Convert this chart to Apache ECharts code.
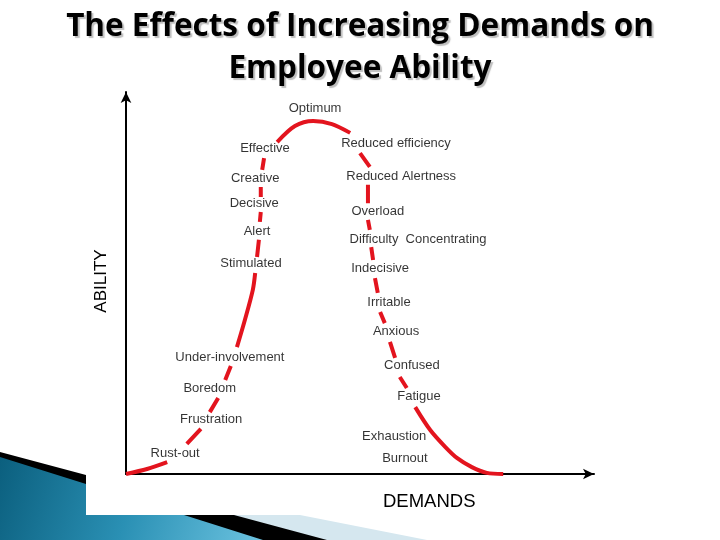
<!DOCTYPE html>
<html>
<head>
<meta charset="utf-8">
<script src="https://cdn.jsdelivr.net/npm/echarts@6/dist/echarts.min.js"></script>
<style>html,body{margin:0;padding:0;background:#fff}#c{width:720px;height:540px}</style>
</head>
<body>
<div id="c"></div>
<script>
// Curve of ability (y) against demands (x).
// null marks a break in the drawn curve (where a stage label sits).
const curveX = [0, 4.5, 8.8, null, 13.0, 16.0, null, 17.9, 19.7, null, 21.2, 22.4, null, 23.7, 25.4, 27.1, 27.6, null,
  28.0, 28.4, null, 28.6, 28.8, null, 28.8, 28.8, null, 29.1, 29.5, null, 32.3, 36.1, 40.0, 44.0, 47.9, null,
  50.0, 52.1, null, 51.7, 51.7, null, 51.7, 52.1, null, 52.4, 52.8, null, 53.2, 53.8, null, 54.3, 55.3, null,
  56.4, 57.5, null, 58.5, 60.0, null, 61.8, 65.0, 68.2, 70.7, 73.9, 77.1, 80.6];
const curveY = [0, 1.3, 3.1, null, 7.9, 11.8, null, 16.2, 19.9, null, 24.6, 28.3, null, 33.2, 40.3, 48.2, 52.6, null,
  56.8, 61.3, null, 66.0, 68.6, null, 72.5, 75.1, null, 79.6, 82.7, null, 86.9, 91.1, 92.4, 91.6, 89.3, null,
  84.0, 80.4, null, 75.7, 70.9, null, 66.5, 63.9, null, 59.4, 56.0, null, 51.3, 47.4, null, 42.4, 39.5, null,
  34.6, 30.4, null, 25.4, 22.5, null, 17.5, 11.5, 7.1, 4.2, 1.8, 0.3, 0];

// Stage labels along the curve
const stageNames = ['Optimum', 'Effective', 'Creative', 'Decisive', 'Alert', 'Stimulated', 'Under-involvement', 'Boredom', 'Frustration', 'Rust-out',
  'Reduced efficiency', 'Reduced Alertness', 'Overload', 'Difficulty  Concentrating', 'Indecisive', 'Irritable', 'Anxious', 'Confused', 'Fatigue', 'Exhaustion', 'Burnout'];
const stageX = [40.4, 29.7, 27.6, 27.4, 28.0, 26.7, 22.2, 17.9, 18.2, 10.5, 57.7, 58.8, 53.8, 62.4, 54.3, 56.2, 57.7, 61.1, 62.6, 57.3, 59.6];
const stageY = [95.8, 85.1, 77.5, 70.9, 63.6, 55.2, 30.6, 22.3, 14.4, 5.5, 86.6, 78.0, 68.8, 61.5, 53.7, 44.8, 37.2, 28.3, 20.4, 9.9, 4.2];

const titleText = 'The Effects of Increasing Demands on\nEmployee Ability';
const xName = 'DEMANDS';
const yName = 'ABILITY';

const chart = echarts.init(document.getElementById('c'));
const lineData = curveX.map((x, i) => (x === null ? ['-', '-'] : [x, curveY[i]]));
const labelData = stageNames.map((n, i) => ({ value: [stageX[i], stageY[i]], name: n }));

chart.setOption({
  backgroundColor: '#fff',
  animation: false,
  title: {
    text: titleText,
    left: 355,
    top: 1,
    textAlign: 'center',
    textStyle: {
      fontFamily: 'Open Sans',
      fontSize: 31.5,
      fontWeight: 'bold',
      lineHeight: 42,
      color: '#000',
      align: 'center',
      textShadowColor: 'rgba(0,0,0,0.25)',
      textShadowOffsetX: 2,
      textShadowOffsetY: 2,
      textShadowBlur: 1
    }
  },
  grid: { left: 126, right: 126, top: 92, bottom: 66 },
  xAxis: {
    type: 'value', min: 0, max: 100,
    axisLine: { show: true, onZero: false, symbol: ['none', 'arrow'], symbolSize: [8, 11], lineStyle: { color: '#000', width: 2 } },
    axisTick: { show: false }, axisLabel: { show: false }, splitLine: { show: false }
  },
  yAxis: {
    type: 'value', min: 0, max: 100,
    axisLine: { show: true, onZero: false, symbol: ['none', 'arrow'], symbolSize: [8, 11], lineStyle: { color: '#000', width: 2 } },
    axisTick: { show: false }, axisLabel: { show: false }, splitLine: { show: false }
  },
  graphic: [
    { type: 'polygon', z: -10, shape: { points: [[86, 515], [300, 515], [427, 540], [86, 540]] }, style: { fill: '#d5e7ef' } },
    { type: 'polygon', z: -9, shape: { points: [[0, 452], [86, 475], [86, 515], [234, 515], [327, 540], [0, 540]] }, style: { fill: '#000' } },
    { type: 'polygon', z: -8, shape: { points: [[0, 457], [86, 484], [86, 515], [184, 515], [263, 540], [0, 540]] },
      style: { fill: new echarts.graphic.LinearGradient(0, 0, 1, 1, [
        { offset: 0, color: '#0b5f7e' }, { offset: 0.5, color: '#2a90b4' }, { offset: 1, color: '#6cc3e0' }]) } },
    { type: 'text', left: 383, top: 492, style: { text: xName, font: '18.5px "Liberation Sans"', fill: '#000' } },
    { type: 'text', x: 101, y: 281, rotation: Math.PI / 2,
      style: { text: yName, font: '17px "Liberation Sans"', fill: '#000', align: 'center', verticalAlign: 'middle' } }
  ],
  series: [
    {
      type: 'line', data: lineData, smooth: 0.3, connectNulls: false, showSymbol: false, symbol: 'none', z: 2,
      lineStyle: { color: '#e3141e', width: 4 }
    },
    {
      type: 'scatter', data: labelData, symbolSize: 1, z: 10,
      itemStyle: { color: 'rgba(0,0,0,0)' },
      labelLayout: { hideOverlap: false },
      label: {
        show: true, position: 'inside', formatter: p => p.name,
        fontFamily: 'Liberation Sans', fontSize: 13, color: '#000', textBorderWidth: 0
      }
    }
  ]
});
</script>
</body>
</html>
